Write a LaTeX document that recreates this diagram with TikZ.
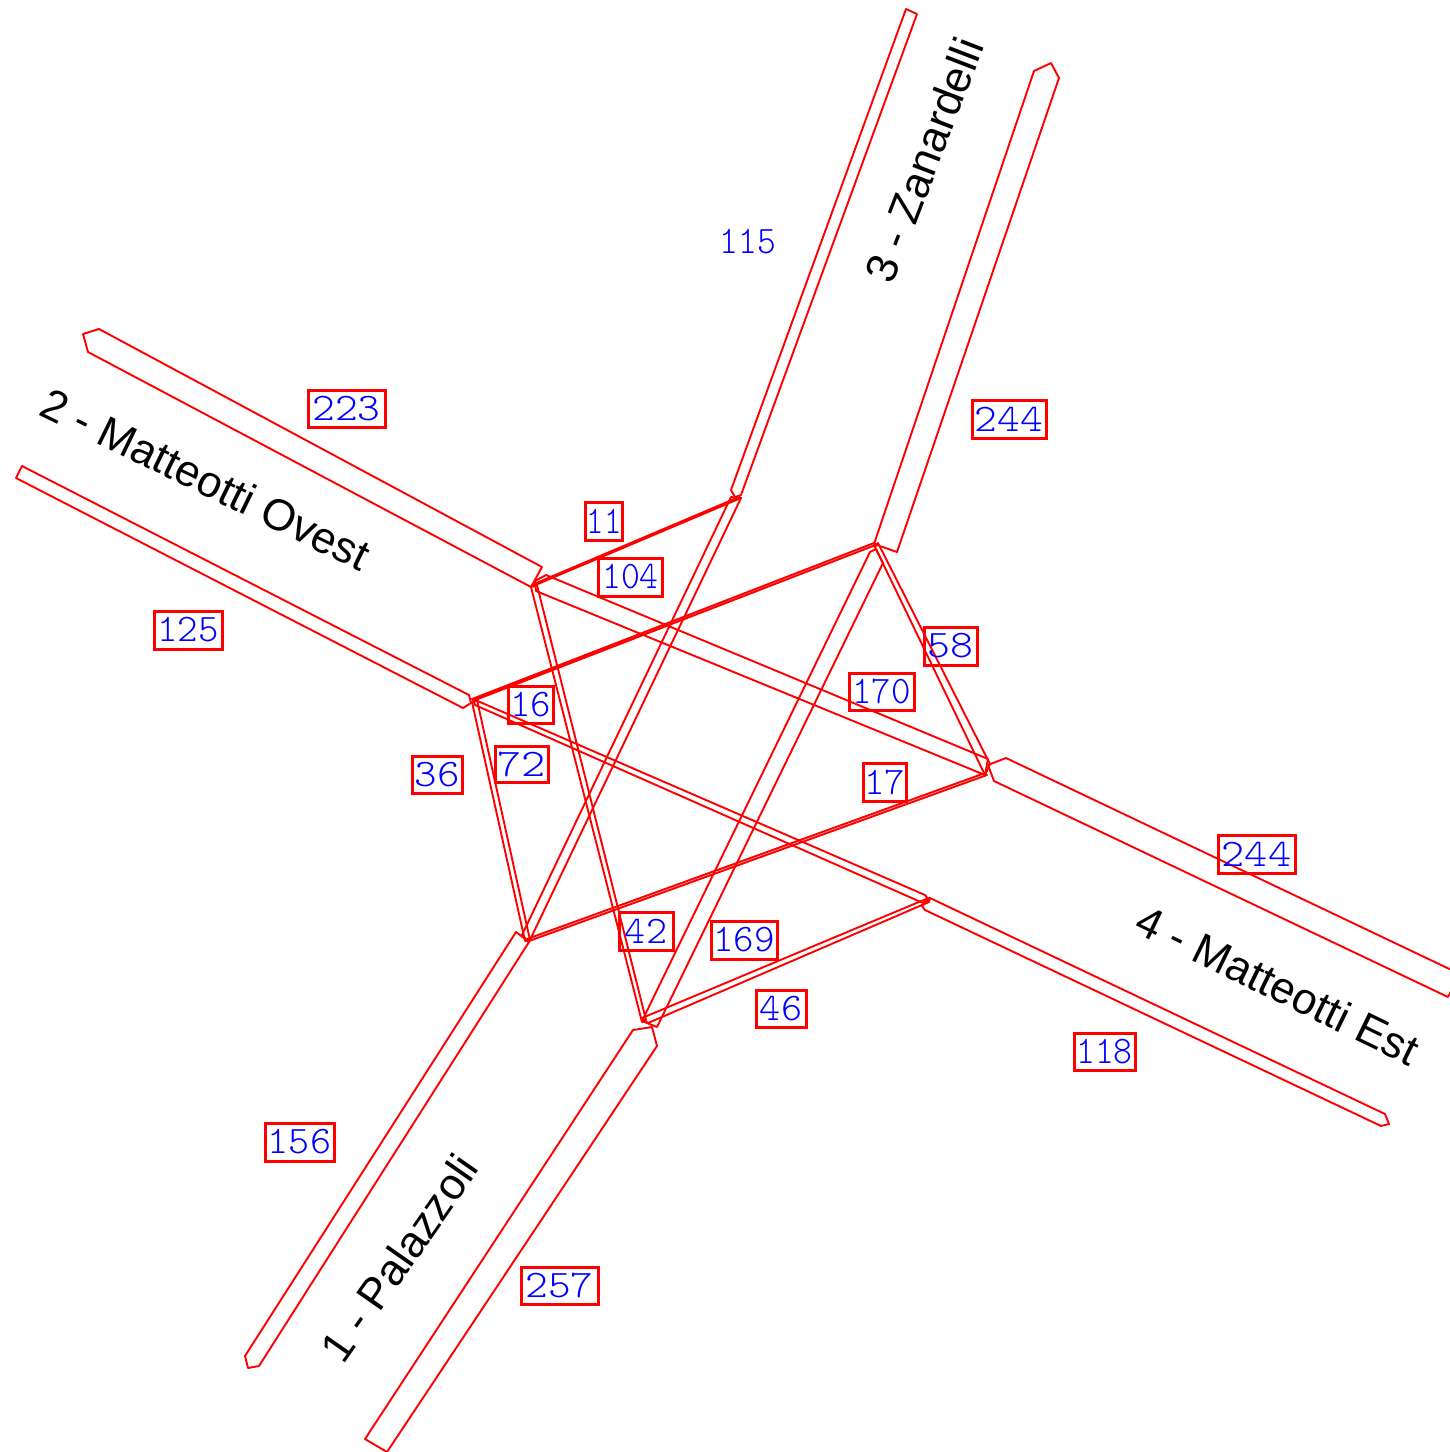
\documentclass[tikz,border=0pt]{standalone}
\usepackage{graphicx}
\usepackage{fontspec}
\setmainfont{Liberation Sans}
\newfontfamily\cadfont{Latin Modern Mono Light}
\definecolor{laneRed}{RGB}{255,0,0}
\definecolor{numBlue}{RGB}{0,0,255}
\tikzset{
  lane/.style={draw=laneRed,line width=0.95pt,line join=round},
  numtext/.style={inner sep=0pt,outer sep=0pt,text=numBlue,font=\cadfont\fontsize{19.5}{20}\selectfont},
  boxlab/.style={numtext,draw=laneRed,line width=1.5pt},
  street/.style={inner sep=0pt,text=black,font=\fontsize{22}{24}\selectfont}
}
\newcommand\boxnum[7]{\node[boxlab,minimum width=#4*0.5pt,minimum height=#5*0.5pt] (#1) at (#2,#3) {\scalebox{#7}[1]{#6}};}
\begin{document}
\begin{tikzpicture}[x=0.5pt,y=-0.5pt]
\useasboundingbox (0,0) rectangle (1450,1452);
\clip (0,0) rectangle (1450,1452);
% approach arms
\draw[lane] (245,1356) -- (248,1368) -- (259,1366) -- (529,942) -- (516,932) -- cycle;
\draw[lane] (365,1439) -- (633,1030) -- (652,1027) -- (657,1046) -- (387,1452) -- cycle;
\draw[lane] (83,334) -- (99,329) -- (542,567) -- (531,587) -- (88,352) -- cycle;
\draw[lane] (22,466) -- (469,695) -- (471,703) -- (463,708) -- (16,478) -- cycle;
\draw[lane] (906,9) -- (917,14) -- (741,495) -- (735,497) -- (731,490) -- cycle;
\draw[lane] (1034,71) -- (1051,63) -- (1059,78) -- (897,552) -- (874,544) -- cycle;
\draw[lane] (1006,758) -- (1460,974) -- (1448,997) -- (994,781) -- (988,765) -- cycle;
\draw[lane] (930,898) -- (1385,1114) -- (1389,1124) -- (1381,1126) -- (925,910) -- (922,906) -- cycle;
% inner lanes
\draw[lane] (533,586) -- (741,498) -- (739,497) -- (534,584) -- cycle;
\draw[lane] (535,581) -- (546,575) -- (988,759) -- (985,775) -- (536,591) -- cycle;
\draw[lane] (472,699) -- (874,543) -- (877,544.5) -- (474,700.5) -- cycle;
\draw[lane] (473,699) -- (925,895) -- (928,899) -- (923,903) -- (475,705) -- cycle;
\draw[lane] (642,1018) -- (926,899) -- (930,898) -- (929,902) -- (648,1023) -- cycle;
\draw[lane] (870,552) -- (876,549) -- (883,563) -- (657,1027) -- (642,1021) -- cycle;
\draw[lane] (875,547) -- (878,543) -- (990,764) -- (985,775) -- cycle;
\draw[lane] (531,587) -- (537,585) -- (646,1020) -- (642,1022) -- cycle;
\draw[lane] (472,702) -- (477,700) -- (530,940) -- (525,941) -- cycle;
\draw[lane] (731,497) -- (741,498) -- (529,942) -- (522,935) -- cycle;
\draw[lane] (527,939) -- (985,773) -- (987,775) -- (529,941) -- cycle;
% boxed numbers
\boxnum{nA}{346.5}{408.5}{77}{37}{223}{1.11}
\boxnum{nB}{188}{630}{68}{38}{125}{1}
\boxnum{nC}{604}{521}{37}{38}{11}{.85}
\boxnum{nD}{630.5}{577}{64}{38}{104}{.92}
\boxnum{nE}{530.5}{704.5}{45}{37}{16}{1}
\boxnum{nF}{521.5}{764}{53}{36}{72}{1.18}
\boxnum{nG}{437}{774.5}{50}{37}{36}{1.1}
\boxnum{nH}{950.5}{646}{53}{38}{58}{1.12}
\boxnum{nI}{881.5}{691.5}{65}{37}{170}{.95}
\boxnum{nJ}{884.5}{782}{43}{38}{17}{1}
\boxnum{nK}{646}{931}{54}{38}{42}{1.03}
\boxnum{nL}{744}{940}{66}{38}{169}{1}
\boxnum{nM}{781}{1008.5}{50}{37}{46}{1.03}
\boxnum{nN}{1104.5}{1051.5}{61}{37}{118}{.92}
\boxnum{nO}{1009}{419}{74}{38}{244}{1.11}
\boxnum{nP}{1256.5}{854}{77}{38}{244}{1.13}
\boxnum{nQ}{299.5}{1142}{69}{38}{156}{1.03}
\boxnum{nR}{559.5}{1285.5}{77}{37}{257}{1.11}
\node[numtext] (nS) at (748,242) {\scalebox{.92}[1]{115}};
% street names
\node[street,rotate=69] (s3) at (924,160) {3 - Zanardelli};
\node[street,rotate=-26] (s2) at (206,479) {2 - Matteotti Ovest};
\node[street,rotate=-26] (s4) at (1278,985) {4 - Matteotti Est};
\node[street,rotate=55] (s1) at (399,1258) {1 - Palazzoli};
\end{tikzpicture}
\end{document}
